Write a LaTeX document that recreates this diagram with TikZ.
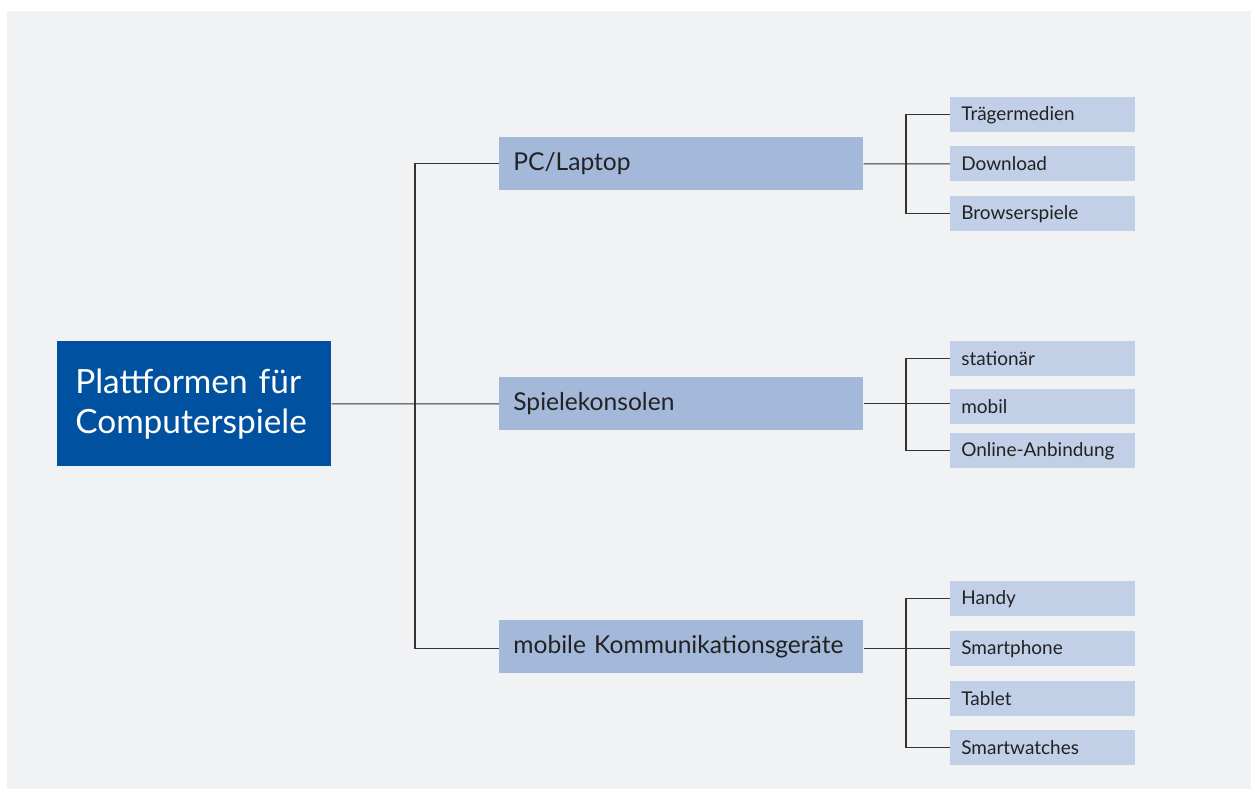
\documentclass[tikz,border=0pt]{standalone}
\usepackage{fontspec}
\setmainfont{Lato}
\usepackage{xcolor}
\usetikzlibrary{positioning}

\definecolor{bgGray}{HTML}{F0F2F4}
\definecolor{mainBlue}{HTML}{0052A0}
\definecolor{midBlue}{HTML}{A4B9DA}
\definecolor{lightBlue}{HTML}{C1D0E7}
\definecolor{lineGray}{HTML}{333333}
\definecolor{textDark}{HTML}{222222}

\begin{document}
\begin{tikzpicture}[x=0.02cm, y=-0.02cm,
  rootbox/.style={rectangle, fill=mainBlue, text=white, anchor=north west, minimum width=5.48cm, minimum height=2.5cm, text width=4.76cm, inner xsep=0.36cm, align=left, font=\fontsize{19}{23}\selectfont},
  platbox/.style={rectangle, fill=midBlue, text=textDark, anchor=north west, minimum width=7.28cm, minimum height=1.06cm, text width=6.72cm, inner xsep=0.28cm, align=left, font=\fontsize{14}{16}\selectfont},
  leafbox/.style={rectangle, fill=lightBlue, text=textDark, anchor=north west, minimum width=3.7cm, minimum height=0.7cm, text width=3.26cm, inner xsep=0.22cm, align=left, font=\fontsize{10.8}{13}\selectfont},
  branch/.style={draw=lineGray, line width=0.6pt}]

\useasboundingbox (0,0) rectangle (1251,789);
\fill[bgGray] (7,11) rectangle (1251,789);

%% root
\node at (57,341) [rootbox] (root) {Plattformen für\\Computerspiele};

%% platforms
\node at (499,137) [platbox] (pc) {PC/Laptop};
\node at (499,377) [platbox] (konsole) {Spielekonsolen};
\node at (499,620) [platbox] (mobile) {mobile Kommunikationsgeräte};

%% leaves
\node at (950,97) [leafbox] (traeger) {Trägermedien};
\node at (950,146) [leafbox] (download) {Download};
\node at (950,196) [leafbox] (browser) {Browserspiele};

\node at (950,341) [leafbox] (stationaer) {stationär};
\node at (950,389) [leafbox] (mobil) {mobil};
\node at (950,433) [leafbox] (online) {Online-Anbindung};

\node at (950,581) [leafbox] (handy) {Handy};
\node at (950,631) [leafbox] (smartphone) {Smartphone};
\node at (950,681) [leafbox] (tablet) {Tablet};
\node at (950,730) [leafbox] (watches) {Smartwatches};

%% connectors
\coordinate (trunk) at (415,0);
\draw[branch] (root.east) -- (konsole.west);
\draw[branch] (pc.west) -| (trunk |- smartphone.west) -- (mobile.west |- smartphone.west);

\coordinate (fork) at (906,0);
\draw[branch] (pc.east) -- (download.west);
\draw[branch] (traeger.west) -| (fork |- browser.west) -- (browser.west);

\draw[branch] (konsole.east) -- (mobil.west |- konsole.east);
\draw[branch] (stationaer.west) -| (fork |- online.west) -- (online.west);

\draw[branch] (mobile.east |- smartphone.west) -- (smartphone.west);
\draw[branch] (handy.west) -| (fork |- watches.west) -- (watches.west);
\draw[branch] (fork |- tablet.west) -- (tablet.west);

\end{tikzpicture}
\end{document}
